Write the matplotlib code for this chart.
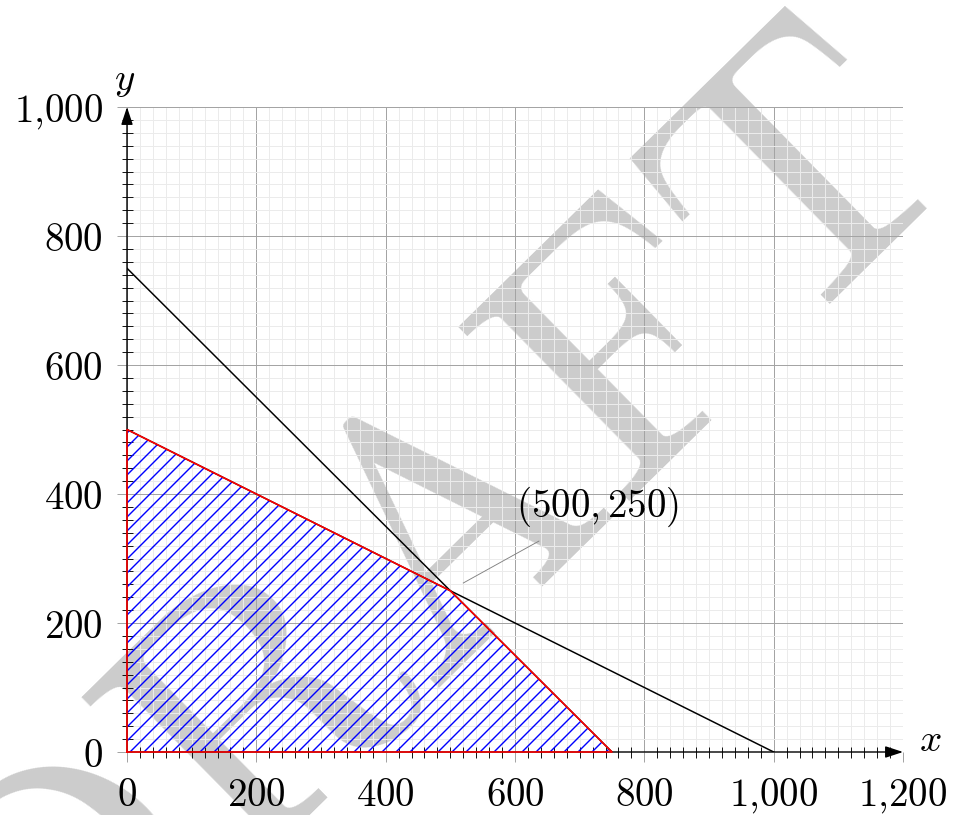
import matplotlib
matplotlib.use('Agg')
import matplotlib.pyplot as plt
from matplotlib.patches import Polygon
import numpy as np

DPI = 84


def pt(px):
    # pixel size -> points at this dpi
    return px * 72.0 / DPI


# data
x_ticks = [0, 200, 400, 600, 800, 1000, 1200]
x_labels = ['$0$', '$200$', '$400$', '$600$', '$800$', '$1{,}000$', '$1{,}200$']
y_ticks = [0, 200, 400, 600, 800, 1000]
y_labels = ['$0$', '$200$', '$400$', '$600$', '$800$', '$1{,}000$']

line1_x = [0, 750]     # x + y = 750
line1_y = [750, 0]
line2_x = [0, 1000]    # x + 2y = 1000
line2_y = [500, 0]

region_x = [0, 0, 500, 750]
region_y = [0, 500, 250, 0]

corner_label = '$(500,250)$'

plt.rcParams['mathtext.fontset'] = 'cm'
plt.rcParams['hatch.linewidth'] = pt(1.4)

fig = plt.figure(figsize=(955 / DPI, 815 / DPI), dpi=DPI)
ax = fig.add_axes([127 / 955, 63 / 815, 776 / 955, 645 / 815])
ax.patch.set_facecolor('none')

# watermark behind everything
fig.text(445 / 955, 1 - 545 / 815, 'DRAFT', fontfamily='cmr10', fontsize=pt(356),
         color='#cccccc', rotation=44.5, ha='center', va='center',
         rotation_mode='anchor', zorder=-5)

ax.set_xlim(0, 1200)
ax.set_ylim(0, 1000)
ax.set_xticks(x_ticks)
ax.set_xticklabels(x_labels, fontsize=pt(39))
ax.set_yticks(y_ticks)
ax.set_yticklabels(y_labels, fontsize=pt(39))
ax.set_xticks(np.arange(0, 1201, 20), minor=True)
ax.set_yticks(np.arange(0, 1001, 20), minor=True)

ax.set_axisbelow(True)
ax.grid(which='minor', color='#ebebeb', lw=pt(1.0))
ax.grid(which='major', color='#a4a4a4', lw=pt(1.0))
ax.tick_params(which='major', direction='out', length=pt(10), width=pt(1.0),
               color='#a4a4a4', pad=pt(14))
ax.tick_params(which='minor', direction='inout', length=pt(11), width=pt(0.9),
               color='black')
for s in ax.spines.values():
    s.set_visible(False)

# axis arrows
arr = dict(arrowstyle='-|>,head_length=1.0,head_width=0.33', color='black',
           lw=pt(1.4), shrinkA=0, shrinkB=0, mutation_scale=pt(15))
ax.annotate('', xy=(1200, 0), xytext=(0, 0), arrowprops=arr, annotation_clip=False)
ax.annotate('', xy=(0, 1000), xytext=(0, 0), arrowprops=arr, annotation_clip=False)
ax.text(1242, 19, '$x$', fontsize=pt(39), ha='center', va='center')
ax.text(-3, 1042, '$y$', fontsize=pt(39), ha='center', va='center')

# constraint lines
ax.plot(line1_x, line1_y, color='black', lw=pt(1.5), zorder=3)
ax.plot(line2_x, line2_y, color='black', lw=pt(1.5), zorder=3)

# feasible region
poly = Polygon(list(zip(region_x, region_y)), closed=True, facecolor='none',
               edgecolor='blue', lw=0, hatch='//', zorder=2)
ax.add_patch(poly)
ax.plot(region_x + region_x[:1], region_y + region_y[:1], color='red',
        lw=pt(1.6), zorder=5, clip_on=False)

# corner annotation
ax.plot([520, 637], [262, 327], color='#808080', lw=pt(0.9), zorder=4)
ax.text(727, 380, corner_label, fontsize=pt(39), ha='center', va='center', zorder=6)

fig.savefig('out.png', dpi=DPI)
